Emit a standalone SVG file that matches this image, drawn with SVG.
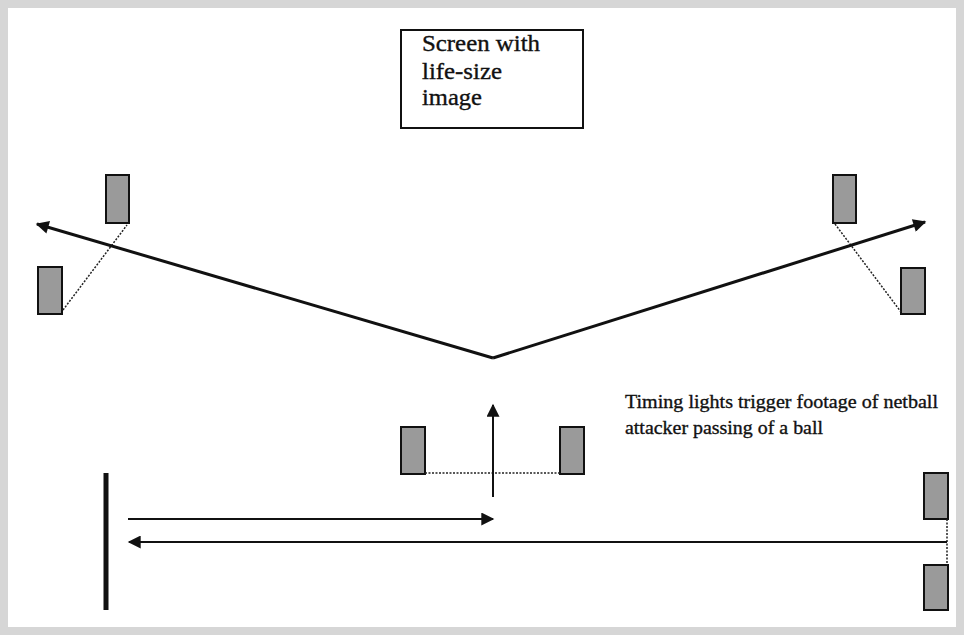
<svg xmlns="http://www.w3.org/2000/svg" width="964" height="635" viewBox="0 0 964 635">
<style>
.gate{fill:#9a9a9a;stroke:#111;stroke-width:2}
.dot{stroke:#222;stroke-width:1.5;stroke-dasharray:2 1.5;fill:none}
.arr{stroke:#111;fill:none}
.t{font-family:"Liberation Serif","Times New Roman",serif;fill:#111;stroke:#111;stroke-width:0.35}
</style>
<defs>
<marker id="ah" viewBox="0 0 10 10" refX="9" refY="5" markerWidth="16" markerHeight="13" markerUnits="userSpaceOnUse" orient="auto">
<path d="M0,0 L10,5 L0,10 z" fill="#111"/>
</marker>
</defs>
<rect x="0" y="0" width="964" height="635" fill="#d6d6d6"/>
<rect x="8" y="8" width="948" height="619" fill="#fff"/>
<g id="screen">
<rect x="401" y="30" width="182" height="98" fill="#fff" stroke="#111" stroke-width="2"/>
<text class="t" x="422" y="51" font-size="23" textLength="118" lengthAdjust="spacingAndGlyphs">Screen with</text>
<text class="t" x="422" y="79" font-size="23" textLength="80" lengthAdjust="spacingAndGlyphs">life-size</text>
<text class="t" x="422" y="105" font-size="23" textLength="60" lengthAdjust="spacingAndGlyphs">image</text>
</g>
<g id="label">
<text class="t" x="625" y="408" font-size="19" textLength="313" lengthAdjust="spacingAndGlyphs">Timing lights trigger footage of netball</text>
<text class="t" x="625" y="434" font-size="19" textLength="198" lengthAdjust="spacingAndGlyphs">attacker passing of a ball</text>
</g>
<g id="gate-left-top"><rect class="gate" x="106" y="175" width="23" height="48"/></g>
<g id="gate-left-bottom"><rect class="gate" x="38" y="267" width="24" height="47"/></g>
<g id="gate-right-top"><rect class="gate" x="833" y="175" width="23" height="48"/></g>
<g id="gate-right-bottom"><rect class="gate" x="901" y="268" width="24" height="46"/></g>
<g id="gate-mid-left"><rect class="gate" x="401" y="427" width="24" height="47"/></g>
<g id="gate-mid-right"><rect class="gate" x="560" y="427" width="24" height="47"/></g>
<g id="gate-end-top"><rect class="gate" x="924" y="473" width="24" height="46"/></g>
<g id="gate-end-bottom"><rect class="gate" x="924" y="565" width="24" height="45"/></g>
<g id="start-line"><line x1="106" y1="473" x2="106" y2="610" stroke="#111" stroke-width="5"/></g>
<g id="connectors">
<line class="dot" x1="63" y1="310" x2="127" y2="225"/>
<line class="dot" x1="835" y1="224" x2="901" y2="312"/>
<line class="dot" x1="425" y1="473" x2="560" y2="473"/>
<line class="dot" x1="947" y1="519" x2="947" y2="565"/>
<polyline class="arr" stroke-width="3" points="493,358 37,224" marker-end="url(#ah)"/>
<polyline class="arr" stroke-width="3" points="493,358 925,222" marker-end="url(#ah)"/>
<line class="arr" stroke-width="2" x1="493" y1="497" x2="493" y2="405" marker-end="url(#ah)"/>
<line class="arr" stroke-width="2" x1="128" y1="519" x2="493" y2="519" marker-end="url(#ah)"/>
<line class="arr" stroke-width="2" x1="947" y1="542" x2="129" y2="542" marker-end="url(#ah)"/>
</g>
</svg>
